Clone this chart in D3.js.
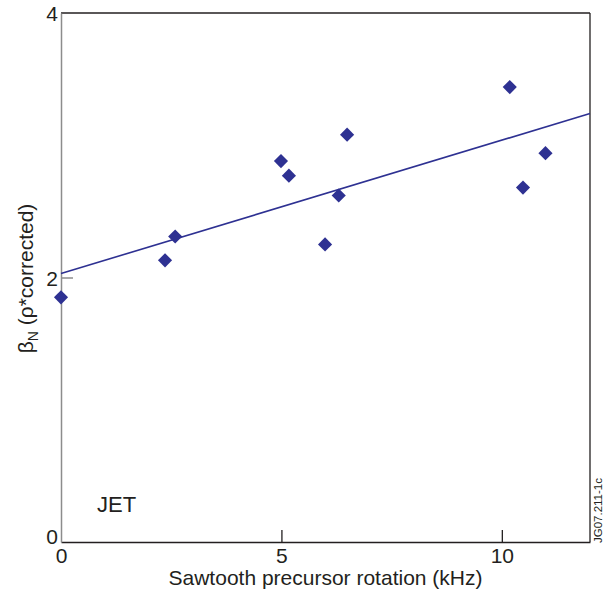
<!DOCTYPE html>
<html>
<head>
<meta charset="utf-8">
<script src="https://cdn.jsdelivr.net/npm/d3@7"></script>
<style>
  html, body { margin: 0; padding: 0; background: #fff; }
  svg { display: block; font-family: "Liberation Sans", Arial, Helvetica, sans-serif; }
</style>
</head>
<body>
<svg id="chart" width="603" height="601"></svg>
<script>
// ---- data ----
const rotationKHz = [0.0, 2.36, 2.59, 4.99, 5.17, 5.99, 6.30, 6.49, 10.18, 10.48, 10.99];
const betaN       = [1.85, 2.13, 2.31, 2.88, 2.77, 2.25, 2.62, 3.08, 3.44, 2.68, 2.94];
const fitX = [0, 12];
const fitY = [2.03, 3.24];
const xTicks = [0, 5, 10];
const yTicks = [0, 2, 4];
const xTitle = "Sawtooth precursor rotation (kHz)";
const panelLabel = "JET";
const figId = "JG07.211-1c";

// ---- layout ----
const W = 603, H = 601;
const m = { left: 61, right: 13, top: 13, bottom: 59 };
const x = d3.scaleLinear().domain([0, 12]).range([m.left, W - m.right]);
const y = d3.scaleLinear().domain([0, 4]).range([H - m.bottom, m.top]);

const svg = d3.select("#chart");
const dark = "#231f20", gray = "#8c8c8c", blue = "#2e3192";

// frame top & right
svg.append("line").attr("x1", x(0)).attr("x2", x(12)).attr("y1", y(4)).attr("y2", y(4))
  .attr("stroke", dark).attr("stroke-width", 1.3);
svg.append("line").attr("x1", x(12)).attr("x2", x(12)).attr("y1", y(4)).attr("y2", y(0))
  .attr("stroke", dark).attr("stroke-width", 1.3);

// x axis
const gx = svg.append("g").attr("transform", `translate(0,${y(0)})`)
  .call(d3.axisBottom(x).tickValues(xTicks).tickFormat(d3.format("d")).tickSize(-12).tickSizeOuter(0).tickPadding(6));
gx.select(".domain").attr("stroke", dark).attr("stroke-width", 1.3);
gx.selectAll(".tick line").attr("stroke", dark).attr("stroke-width", 1.3)
  .attr("display", d => (d === 0 ? "none" : null));
gx.selectAll(".tick text").attr("font-size", 21).attr("fill", dark)
  .attr("font-family", "Liberation Sans, Arial, sans-serif");

// y axis
const gy = svg.append("g").attr("transform", `translate(${x(0)},0)`)
  .call(d3.axisLeft(y).tickValues(yTicks).tickFormat(d3.format("d")).tickSize(-12).tickSizeOuter(0).tickPadding(3));
gy.select(".domain").attr("stroke", gray).attr("stroke-width", 1.5);
gy.selectAll(".tick line").attr("stroke", gray).attr("stroke-width", 1.5)
  .attr("display", d => (d === 0 || d === 4 ? "none" : null));
gy.selectAll(".tick text").attr("font-size", 21).attr("fill", dark)
  .attr("font-family", "Liberation Sans, Arial, sans-serif")
  .attr("dy", d => (d === 0 ? "0.08em" : "0.38em"));

// fit line
svg.append("path")
  .datum(fitX.map((v, i) => [v, fitY[i]]))
  .attr("d", d3.line().x(d => x(d[0])).y(d => y(d[1])))
  .attr("fill", "none").attr("stroke", blue).attr("stroke-width", 1.6);

// points (diamonds)
const sym = d3.symbol().type(d3.symbolSquare).size(100);
svg.append("g").selectAll("path")
  .data(rotationKHz.map((v, i) => [v, betaN[i]]))
  .join("path")
  .attr("d", sym)
  .attr("transform", d => `translate(${x(d[0])},${y(d[1])}) rotate(45)`)
  .attr("fill", blue);

// x title
svg.append("text").attr("x", (x(0) + x(12)) / 2).attr("y", 585)
  .attr("text-anchor", "middle").attr("font-size", 21).attr("fill", dark)
  .text(xTitle);

// y title
const yt = svg.append("text")
  .attr("transform", `translate(33,${(y(0) + y(4)) / 2 + 1}) rotate(-90)`)
  .attr("text-anchor", "middle").attr("font-size", 21).attr("fill", dark);
yt.append("tspan").text("β");
yt.append("tspan").attr("font-size", 14).attr("dy", 5).text("N");
yt.append("tspan").attr("dy", -5).text(" (ρ*corrected)");

// panel label
svg.append("text").attr("x", 97).attr("y", 512).attr("font-size", 22).attr("fill", dark).text(panelLabel);

// figure id
svg.append("text").attr("transform", `translate(602,543) rotate(-90)`)
  .attr("font-size", 11.5).attr("fill", dark).text(figId);
</script>
</body>
</html>
